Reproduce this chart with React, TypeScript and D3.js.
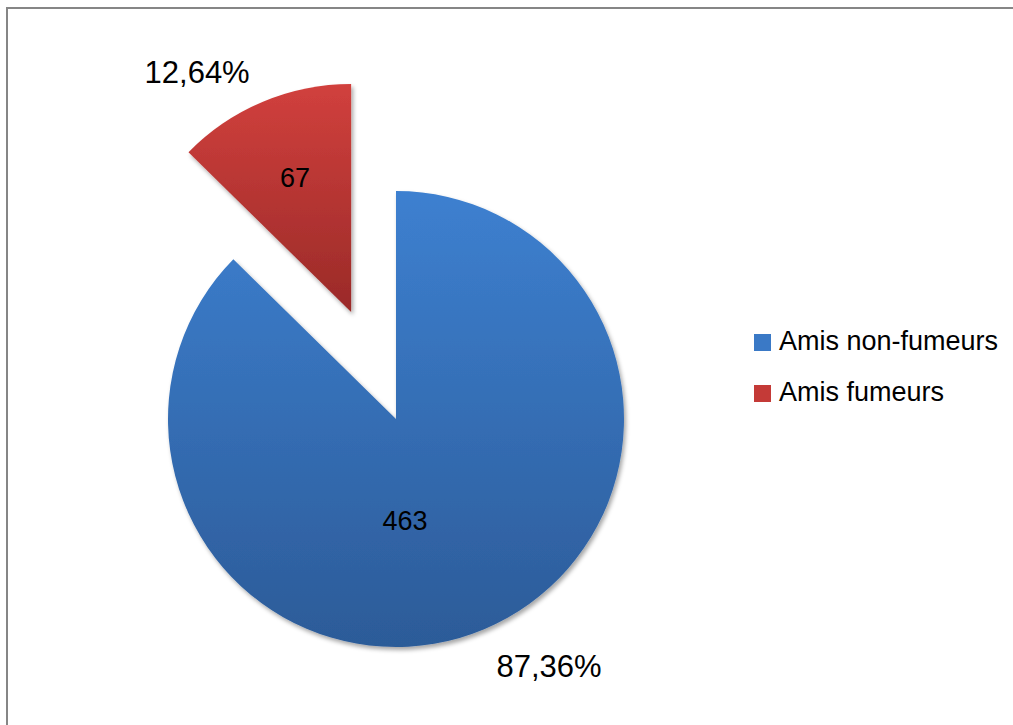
import React from "react";
import * as d3 from "d3";

const categories = ["Amis non-fumeurs", "Amis fumeurs"];
const values = [463, 67];
const percentLabels = ["87,36%", "12,64%"];

const W = 1013;
const H = 725;
const layout = {
  cx: 396,
  cy: 419,
  r: 228,
  explode: [0, 116],
  // value label offsets relative to (exploded) slice centre
  valueOffset: [
    [9, 102],
    [-56, -134],
  ],
  pctOffset: [
    [153, 247],
    [-154, -240],
  ],
};

const gradients = [
  { id: "gBlue", top: "#3d80d0", bottom: "#2c5b98" },
  { id: "gRed", top: "#d1403d", bottom: "#9a2a28" },
];
const legendColors = ["#3a79c6", "#c43a37"];

export default function App() {
  const pie = d3
    .pie<number>()
    .sort(null)
    .startAngle(0)
    .endAngle(2 * Math.PI)(values);
  const arc = d3.arc<d3.PieArcDatum<number>>().innerRadius(0).outerRadius(layout.r);

  const font = "'Liberation Sans', Arial, sans-serif";

  return (
    <svg
      width={W}
      height={H}
      style={{ position: "absolute", left: 0, top: 0, background: "#fff" }}
    >
      <defs>
        {gradients.map((g) => (
          <linearGradient key={g.id} id={g.id} x1="0" y1="0" x2="0" y2="1">
            <stop offset="0%" stopColor={g.top} />
            <stop offset="100%" stopColor={g.bottom} />
          </linearGradient>
        ))}
        <filter id="shadow" x="-20%" y="-20%" width="140%" height="140%">
          <feDropShadow dx="2" dy="3" stdDeviation="2" floodColor="#000" floodOpacity="0.35" />
        </filter>
      </defs>
      <rect x={7} y={8} width={W + 50} height={H + 50} fill="none" stroke="#868686" strokeWidth={2} />
      {pie.map((d, i) => {
        const mid = (d.startAngle + d.endAngle) / 2;
        const ex = Math.sin(mid) * layout.explode[i];
        const ey = -Math.cos(mid) * layout.explode[i];
        const ox = layout.cx + ex;
        const oy = layout.cy + ey;
        return (
          <g key={i}>
            <path
              d={arc(d) || ""}
              transform={`translate(${ox},${oy})`}
              fill={`url(#${gradients[i].id})`}
              filter="url(#shadow)"
            />
            <text
              x={ox + layout.valueOffset[i][0]}
              y={oy + layout.valueOffset[i][1]}
              textAnchor="middle"
              dominantBaseline="central"
              fontFamily={font}
              fontSize={27}
              fill="#000"
            >
              {values[i]}
            </text>
            <text
              x={ox + layout.pctOffset[i][0]}
              y={oy + layout.pctOffset[i][1]}
              textAnchor="middle"
              dominantBaseline="central"
              fontFamily={font}
              fontSize={31}
              fill="#000"
            >
              {percentLabels[i]}
            </text>
          </g>
        );
      })}
      {categories.map((c, i) => (
        <g key={c} transform={`translate(754,${334 + i * 51})`}>
          <rect width={17} height={17} fill={legendColors[i]} />
          <text x={25} y={16} fontFamily={font} fontSize={27} fill="#000">
            {c}
          </text>
        </g>
      ))}
    </svg>
  );
}
